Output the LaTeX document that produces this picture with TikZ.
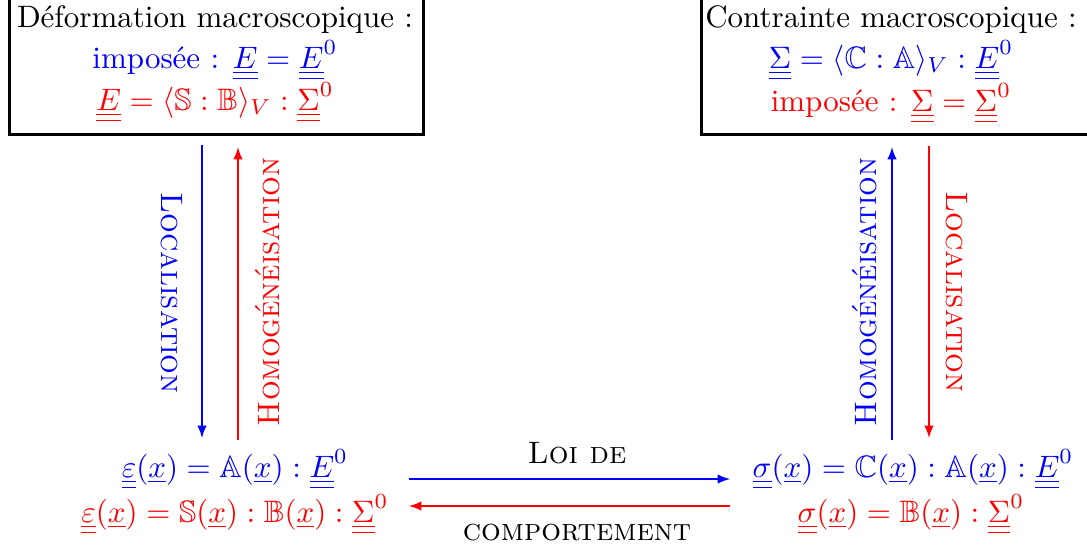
\documentclass[tikz,border=0pt]{standalone}
\usepackage{amsmath,amssymb}
\usepackage{fontspec}
\newcommand{\uu}[1]{\underline{\underline{#1}}}
\newcommand{\ux}{\underline{x}}
\begin{document}
\begin{tikzpicture}[x=0.3226pt,y=-0.3226pt,
  txt/.style={anchor=base,inner sep=0pt},
  frame/.style={draw,line width=1pt,inner sep=0pt,anchor=north west},
  lbl/.style={inner sep=0pt,font=\scshape},
  arr/.style={-latex,line width=0.4pt}]
\useasboundingbox (0,0) rectangle (1087,548);
% boxes
\node[frame,minimum width=133.6pt,minimum height=44.5pt] (boxL) at (8,-5) {};
\node[frame,minimum width=129pt,minimum height=44.5pt] (boxR) at (700,-5) {};
% left box text
\node[txt] (dl1) at (215,27) {Déformation macroscopique :};
\node[txt,blue] (dl2) at (215,68) {imposée : $\uu{E}=\uu{E}^0$};
\node[txt,red] (dl3) at (215,110) {$\uu{E}=\langle\mathbb{S}:\mathbb{B}\rangle_V:\uu{\Sigma}^0$};
% right box text
\node[txt] (cl1) at (891,27) {Contrainte macroscopique :};
\node[txt,blue] (cl2) at (891,68) {$\uu{\Sigma}=\langle\mathbb{C}:\mathbb{A}\rangle_V:\uu{E}^0$};
\node[txt,red] (cl3) at (891,111) {imposée : $\uu{\Sigma}=\uu{\Sigma}^0$};
% bottom formulas
\node[txt,blue] (eps1) at (235,477) {$\uu{\varepsilon}(\ux)=\mathbb{A}(\ux):\uu{E}^0$};
\node[txt,red] (eps2) at (235,522) {$\uu{\varepsilon}(\ux)=\mathbb{S}(\ux):\mathbb{B}(\ux):\uu{\Sigma}^0$};
\node[txt,blue] (sig1) at (913,477) {$\uu{\sigma}(\ux)=\mathbb{C}(\ux):\mathbb{A}(\ux):\uu{E}^0$};
\node[txt,red] (sig2) at (911,522) {$\uu{\sigma}(\ux)=\mathbb{B}(\ux):\uu{\Sigma}^0$};
% horizontal arrows
\coordinate (hA1) at (409,479);
\coordinate (hA2) at (730,479);
\coordinate (hB1) at (730,506);
\coordinate (hB2) at (409,506);
\draw[arr,blue] (hA1) -- (hA2);
\draw[arr,red] (hB1) -- (hB2);
\node[txt,font=\scshape] (loi) at (577,463) {Loi de};
\node[txt,font=\scshape] (comp) at (577,540) {comportement};
% vertical arrows left
\coordinate (vL1a) at (202,145);
\coordinate (vL1b) at (202,438);
\coordinate (vL2a) at (238,440);
\coordinate (vL2b) at (238,147);
\draw[arr,blue] (vL1a) -- (vL1b);
\draw[arr,red] (vL2a) -- (vL2b);
% vertical arrows right
\coordinate (vR1a) at (892,440);
\coordinate (vR1b) at (892,147);
\coordinate (vR2a) at (929,146);
\coordinate (vR2b) at (929,438);
\draw[arr,blue] (vR1a) -- (vR1b);
\draw[arr,red] (vR2a) -- (vR2b);
% rotated labels
\node[lbl,blue,rotate=-90] (loc1) at (172,293) {Localisation};
\node[lbl,red,rotate=90] (hom1) at (268,292) {Homogénéisation};
\node[lbl,blue,rotate=90] (hom2) at (865,292) {Homogénéisation};
\node[lbl,red,rotate=-90] (loc2) at (957,292) {Localisation};
\end{tikzpicture}
\end{document}
